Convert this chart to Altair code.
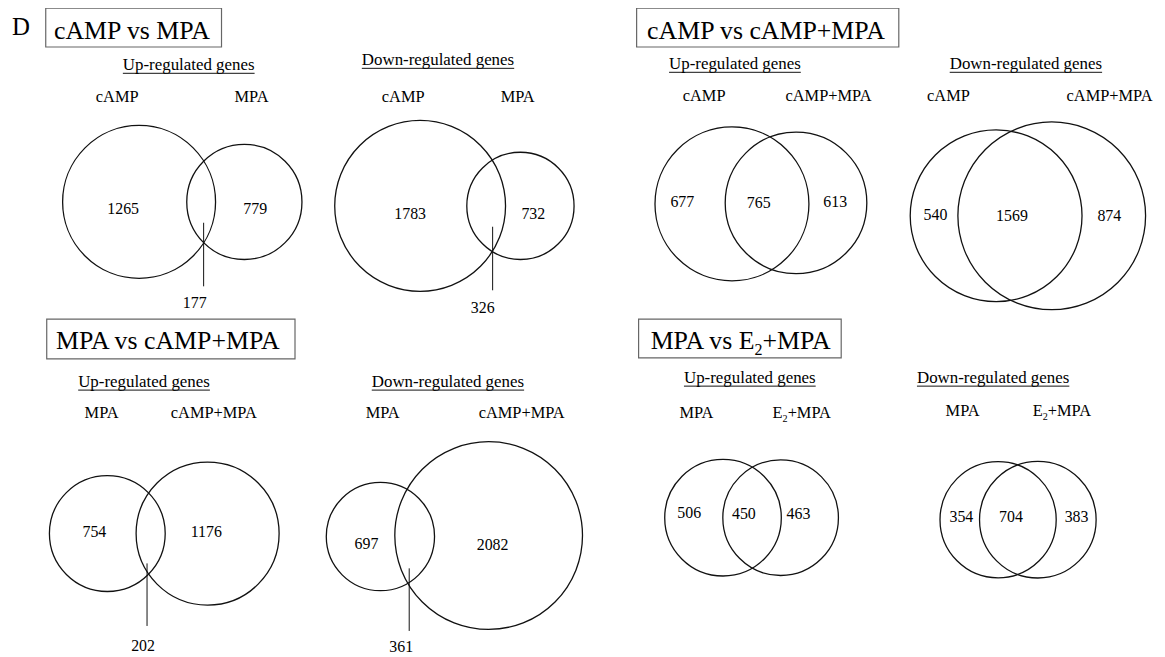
import altair as alt
import pandas as pd

# ---------------- data ----------------
figure_letter = "D"
comparison_titles = ["cAMP vs MPA", "cAMP vs cAMP+MPA", "MPA vs cAMP+MPA", "MPA vs E_2+MPA"]
venn_direction = ["Up-regulated genes", "Down-regulated genes"] * 4
left_set = ["cAMP", "cAMP", "cAMP", "cAMP", "MPA", "MPA", "MPA", "MPA"]
right_set = ["MPA", "MPA", "cAMP+MPA", "cAMP+MPA", "cAMP+MPA", "cAMP+MPA", "E_2+MPA", "E_2+MPA"]
left_only = [1265, 1783, 677, 540, 754, 697, 506, 354]
shared = [177, 326, 765, 1569, 202, 361, 450, 704]
right_only = [779, 732, 613, 874, 1176, 2082, 463, 383]

# ---------------- layout (reference pixel frame, 1165 x 657) ----------------
W, H, M = 1165, 657, 8
letter_pos = (12, 33)
title_boxes = [(46, 6, 223, 45), (641, 6, 905, 45), (47, 319, 297, 359), (643, 319, 847, 358)]
header_pos = [(190, 68), (441, 63), (740, 67), (1033, 67),
              (145, 387), (451, 387), (755, 383), (1000, 383)]
set_label_pos = [((118, 100), (254, 100)), ((406, 100), (522, 100)),
                 ((709, 99), (835, 99)), ((955, 99), (1118, 99)),
                 ((103, 419), (216, 419)), ((386, 419), (526, 419)),
                 ((702, 419), (808, 419)), ((970, 417), (1070, 417))]
circle_left = [(140, 201, 77), (423, 205, 86), (737, 203, 77.5), (1003, 215, 86.5),
               (108, 535, 58.3), (383, 538, 54.5), (728, 519, 58.7), (1005, 521, 58.5)]
circle_right = [(246, 201, 58), (524, 205, 54), (801.5, 202, 71.3), (1059, 215, 94.5),
                (209, 535, 72), (492, 537, 94.5), (786, 519, 58.2), (1045, 521, 58.7)]
count_pos = [((124, 213.5), (196, 308), (257, 213.5)),
             ((413, 218), (486, 313), (537, 218)),
             ((687, 206), (764, 207), (841, 206)),
             ((942, 219), (1019, 220), (1117, 220)),
             ((95, 538), (144, 653), (208, 538)),
             ((369, 551), (404, 654), (496, 552)),
             ((694, 519), (749, 520), (804, 520)),
             ((968, 523), (1018, 523), (1084, 523))]
callout = {0: (205, 222, 286), 1: (496, 226, 290), 4: (148, 565, 628), 5: (412, 570, 633)}

FS_LETTER, FS_TITLE, FS_HEADER, FS_SET, FS_COUNT = 25, 26, 17, 16.5, 16
FONT = "Liberation Serif"

# Times / Liberation Serif advance widths (per 1000 em)
TW = {" ": 250, "+": 564, "-": 333, "A": 722, "D": 722, "E": 611, "M": 889, "P": 556,
      "U": 722, "a": 444, "c": 444, "d": 500, "e": 444, "g": 500, "l": 278, "n": 500,
      "o": 500, "p": 500, "r": 333, "s": 389, "t": 278, "u": 500, "v": 500, "w": 722}


def segments(label):
    """split 'E_2+MPA' into (text, is_subscript) pieces"""
    out, i, buf = [], 0, ""
    while i < len(label):
        if label[i] == "_" and i + 1 < len(label):
            if buf:
                out.append((buf, False))
                buf = ""
            out.append((label[i + 1], True))
            i += 2
        else:
            buf += label[i]
            i += 1
    if buf:
        out.append((buf, False))
    return out


def width(s, fs):
    return sum(TW.get(ch, 500) for ch in s) / 1000.0 * fs


text_rows = []


def add_text(label, cx, base, fs):
    segs = segments(str(label))
    sizes = [fs * 0.62 if sub else fs for _, sub in segs]
    total = sum(width(t, s) for (t, _), s in zip(segs, sizes))
    x = cx - total / 2.0
    for k, ((t, sub), s) in enumerate(zip(segs, sizes)):
        w = width(t, s)
        # a piece followed by a subscript is anchored at its right end so the
        # subscript sits tight against it
        right = (not sub) and k + 1 < len(segs) and segs[k + 1][1]
        text_rows.append({"x": x + w if right else x,
                          "y": base + (0.2 * fs if sub else 0),
                          "t": t, "fs": s, "a": "right" if right else "left"})
        x += w
    return total


rule_rows, box_rows, circ_rows = [], [], []

text_rows.append({"x": letter_pos[0], "y": letter_pos[1], "t": figure_letter,
                  "fs": FS_LETTER, "a": "left"})
for title, (x0, y0, x1, y1) in zip(comparison_titles, title_boxes):
    box_rows.append({"x": x0, "x2": x1, "y": y0, "y2": y1})
    add_text(title, (x0 + x1) / 2.0, y0 + 30.5, FS_TITLE)

for i in range(8):
    hx, hy = header_pos[i]
    w = add_text(venn_direction[i], hx, hy, FS_HEADER)
    rule_rows.append({"x": hx - w / 2, "x2": hx + w / 2, "y": hy + 3.5, "y2": hy + 3.5})
    (lx, ly), (rx, ry) = set_label_pos[i]
    add_text(left_set[i], lx, ly, FS_SET)
    add_text(right_set[i], rx, ry, FS_SET)
    for cx, cy, r in (circle_left[i], circle_right[i]):
        circ_rows.append({"x": cx, "y": cy, "s": (2 * r) ** 2})
    for val, (px, py) in zip((left_only[i], shared[i], right_only[i]), count_pos[i]):
        add_text(val, px, py, FS_COUNT)
    if i in callout:
        lx0, ly0, ly1 = callout[i]
        rule_rows.append({"x": lx0, "x2": lx0, "y": ly0, "y2": ly1})

XS = alt.Scale(domain=[M, W], range=[0, W - M], nice=False, zero=False)
YS = alt.Scale(domain=[M, H], range=[0, H - M], nice=False, zero=False)


def X(f="x"):
    return alt.X(f"{f}:Q", scale=XS, axis=None)


def Y(f="y"):
    return alt.Y(f"{f}:Q", scale=YS, axis=None)


boxes = alt.Chart(pd.DataFrame(box_rows)).mark_rect(
    fillOpacity=0, stroke="#666666", strokeWidth=1.2
).encode(x=X(), x2="x2:Q", y=Y(), y2="y2:Q")

circles = alt.Chart(pd.DataFrame(circ_rows)).mark_point(
    shape="circle", filled=False, stroke="#111111", strokeWidth=1.3, opacity=1
).encode(x=X(), y=Y(), size=alt.Size("s:Q", scale=None))

rules = alt.Chart(pd.DataFrame(rule_rows)).mark_rule(
    color="#111111", strokeWidth=1
).encode(x=X(), x2="x2:Q", y=Y(), y2="y2:Q")

text_df = pd.DataFrame(text_rows)
text_base = alt.Chart(text_df).encode(
    x=X(), y=Y(), text="t:N", size=alt.Size("fs:Q", scale=None))
texts_left = text_base.transform_filter(alt.datum.a == "left").mark_text(
    align="left", baseline="alphabetic", font=FONT, color="#000000")
texts_right = text_base.transform_filter(alt.datum.a == "right").mark_text(
    align="right", baseline="alphabetic", font=FONT, color="#000000")

chart = alt.layer(boxes, circles, rules, texts_left, texts_right).properties(
    width=W - M, height=H - M, padding=0,
    autosize=alt.AutoSizeParams(type="none"),
    background="white",
).configure_view(stroke=None)

chart.save("out.html", embed_options={"renderer": "svg", "actions": False})
